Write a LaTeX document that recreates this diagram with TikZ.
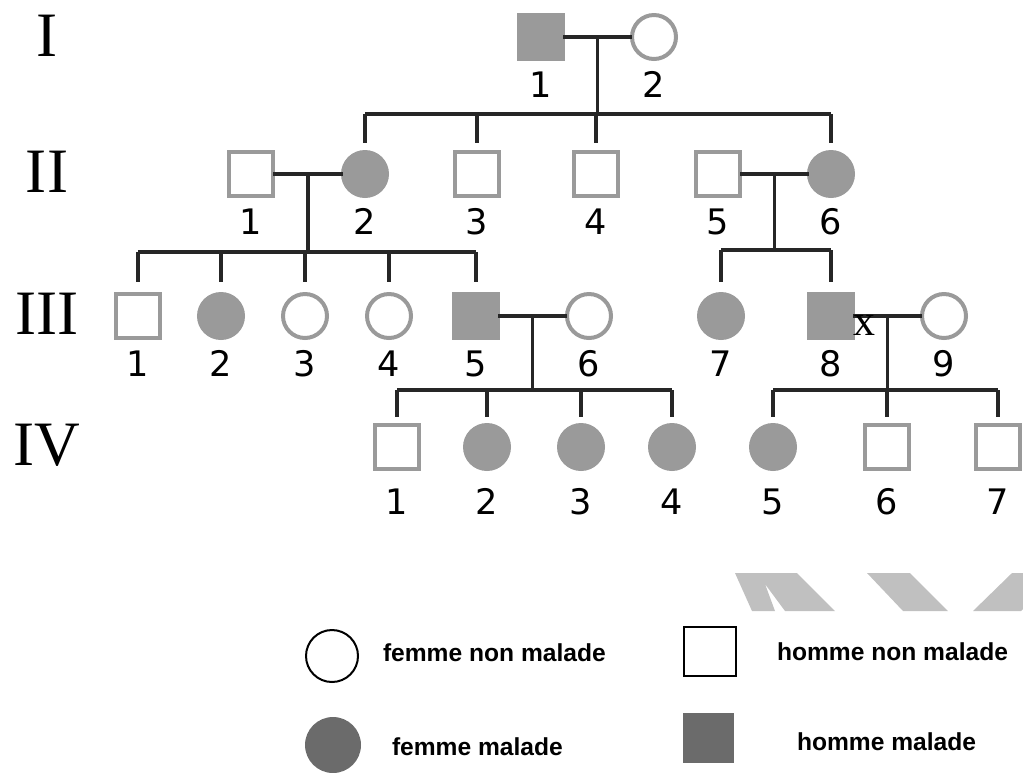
\documentclass[tikz,border=0pt]{standalone}
\usepackage{fontspec}
\setmainfont{Liberation Serif}
\newfontfamily\numfont{DejaVu Sans}
\newfontfamily\keyfont{Liberation Sans}
\usepackage{tikz}
\usetikzlibrary{calc}
\definecolor{symbgray}{HTML}{9A9A9A}
\definecolor{linkgray}{HTML}{262626}
\definecolor{keygray}{HTML}{6B6B6B}
\definecolor{markgray}{HTML}{C0C0C0}

\begin{document}
\begin{tikzpicture}[x=0.02cm, y=-0.02cm,
   every node/.style={outer sep=0,inner sep=0},
   every label/.style={font=\numfont\fontsize{20}{20}\selectfont,
      text height=14.6pt, text depth=0pt},
   label distance=0.26cm,
   homme/.style={draw=symbgray, line width=0.08cm, minimum size=0.88cm},
   femme/.style={homme, circle},
   malade/.style={fill=symbgray},
   link/.style={draw=linkgray, line width=0.065cm},
   gen/.style={font=\fontsize{36}{40}\selectfont},
   keytext/.style={anchor=west, font=\keyfont\bfseries\fontsize{14}{16}\selectfont}]
   \useasboundingbox (0,0) rectangle (1023,772);

   % generations
   \node[gen] (gI) at (47,36) {I};
   \node[gen] (gII) at (47,172) {II};
   \node[gen] (gIII) at (47,314) {III};
   \node[gen] (gIV) at (47,445) {IV};

   % generation I
   \node[homme,malade,label=below:1] (I1) at (541,37) {};
   \node[femme,label=below:2] (I2) at (654,37) {};

   % generation II
   \node[homme,label=below:1] (II1) at (251,174) {};
   \node[femme,malade,label=below:2] (II2) at (365,174) {};
   \node[homme,label=below:3] (II3) at (477,174) {};
   \node[homme,label=below:4] (II4) at (596,174) {};
   \node[homme,label=below:5] (II5) at (718,174) {};
   \node[femme,malade,label=below:6] (II6) at (831,174) {};

   % generation III
   \node[homme,label=below:1] (III1) at (138,316) {};
   \node[femme,malade,label=below:2] (III2) at (221,316) {};
   \node[femme,label=below:3] (III3) at (305,316) {};
   \node[femme,label=below:4] (III4) at (389,316) {};
   \node[homme,malade,label=below:5] (III5) at (476,316) {};
   \node[femme,label=below:6] (III6) at (589,316) {};
   \node[femme,malade,label=below:7] (III7) at (721,316) {};
   \node[homme,malade,label=below:8] (III8) at (831,316) {};
   \node[femme,label=below:9] (III9) at (944,316) {};

   % generation IV
   \begin{scope}[label distance=0.4cm]
   \node[homme,label=below:1] (IV1) at (397,447) {};
   \node[femme,malade,label=below:2] (IV2) at (487,447) {};
   \node[femme,malade,label=below:3] (IV3) at (581,447) {};
   \node[femme,malade,label=below:4] (IV4) at (672,447) {};
   \node[femme,malade,label=below:5] (IV5) at (773,447) {};
   \node[homme,label=below:6] (IV6) at (887,447) {};
   \node[homme,label=below:7] (IV7) at (998,447) {};
   \end{scope}

   % couples and their children
   \coordinate (mI) at ($(I1)!0.5!(I2)$);
   \coordinate (sI) at ($(mI)+(0,77)$);
   \draw[link] (I1) -- (I2);
   \draw[link] (mI) -- (sI);
   \draw[link] (II2 |- sI) -- (II6 |- sI);
   \foreach \c in {II2,II3,II4,II6}
      \draw[link] (\c |- sI) -- ([yshift=0.18cm]\c.north);

   \coordinate (mII) at ($(II1)!0.5!(II2)$);
   \coordinate (sII) at ($(mII)+(0,78)$);
   \draw[link] (II1) -- (II2);
   \draw[link] (mII) -- (sII);
   \draw[link] (III1 |- sII) -- (III5 |- sII);
   \foreach \c in {III1,III2,III3,III4,III5}
      \draw[link] (\c |- sII) -- ([yshift=0.24cm]\c.north);

   \coordinate (mIIb) at ($(II5)!0.5!(II6)$);
   \coordinate (sIIb) at ($(mIIb)+(0,76)$);
   \draw[link] (II5) -- (II6);
   \draw[link] (mIIb) -- (sIIb);
   \draw[link] (III7 |- sIIb) -- (III8 |- sIIb);
   \foreach \c in {III7,III8}
      \draw[link] (\c |- sIIb) -- ([yshift=0.24cm]\c.north);

   \coordinate (mIII) at ($(III5)!0.5!(III6)$);
   \coordinate (sIII) at ($(mIII)+(0,74)$);
   \draw[link] (III5) -- (III6);
   \draw[link] (mIII) -- (sIII);
   \draw[link] (IV1 |- sIII) -- (IV4 |- sIII);
   \foreach \c in {IV1,IV2,IV3,IV4}
      \draw[link] (\c |- sIII) -- ([yshift=0.16cm]\c.north);

   \coordinate (mIIIb) at ($(III8)!0.5!(III9)$);
   \coordinate (sIIIb) at ($(mIIIb)+(0,74)$);
   \draw[link] (III8) -- (III9);
   \draw[link] (mIIIb) -- (sIIIb);
   \draw[link] (IV5 |- sIIIb) -- (IV7 |- sIIIb);
   \foreach \c in {IV5,IV6,IV7}
      \draw[link] (\c |- sIIIb) -- ([yshift=0.16cm]\c.north);

   \node[font=\fontsize{25}{25}\selectfont] (x) at (864,325) {x};

   % grey marks
   \fill[markgray] (735,573) -- (797,573) -- (835,611) -- (785,611) -- (765,584)
      -- (775,611) -- (752,611) -- cycle;
   \fill[markgray] (867,573) -- (910,573) -- (948,611) -- (903,611) -- cycle;
   \fill[markgray] (1012,573) -- (1060,573) -- (1021,611) -- (973,611) -- cycle;

   % legend
   \node[draw=black,circle,line width=0.04cm,minimum size=1.04cm] (kf) at (332,656) {};
   \node[keytext] (kft) at (383,653) {femme non malade};
   \node[circle,fill=keygray,minimum size=1.12cm] (kfm) at (333,745) {};
   \node[keytext] (kfmt) at (392,747) {femme malade};
   \node[draw=black,line width=0.04cm,minimum width=1.04cm,minimum height=0.98cm] (kh) at (710,651) {};
   \node[keytext] (kht) at (777,652) {homme non malade};
   \node[fill=keygray,minimum width=1.02cm,minimum height=1cm] (khm) at (708,738) {};
   \node[keytext] (khmt) at (797,742) {homme malade};

\end{tikzpicture}
\end{document}
